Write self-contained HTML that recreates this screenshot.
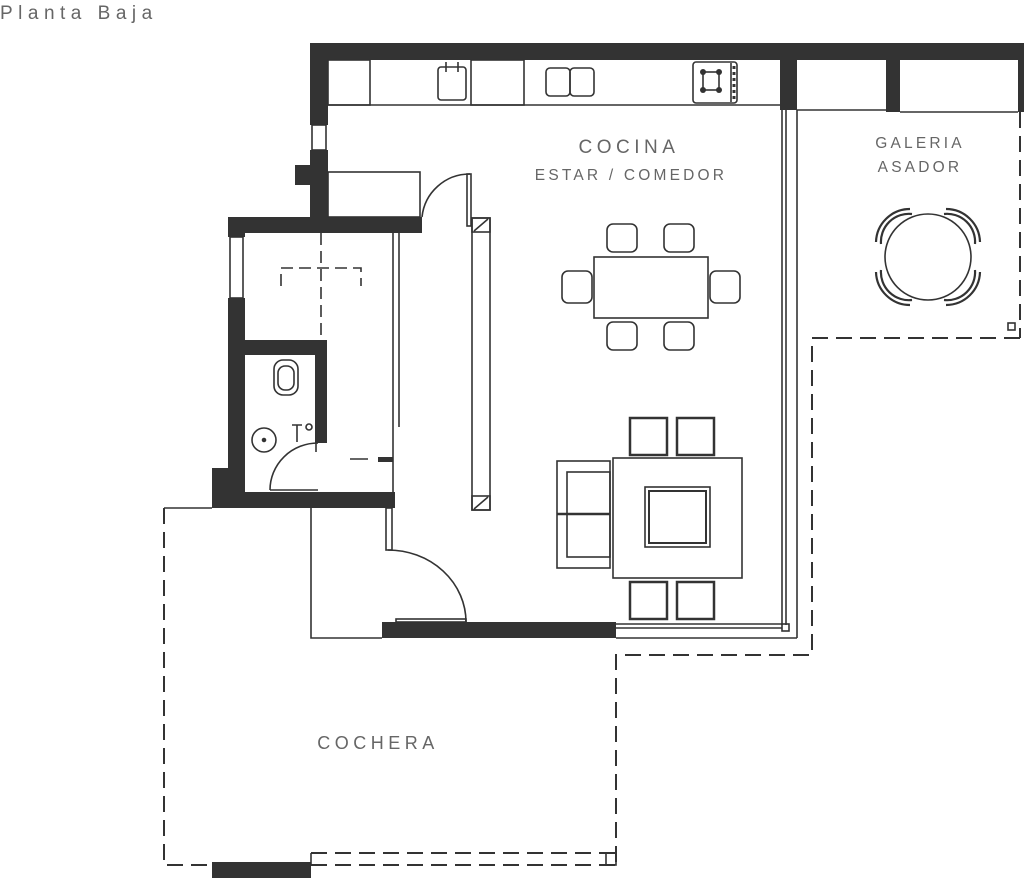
<!DOCTYPE html>
<html><head><meta charset="utf-8"><style>
html,body{margin:0;padding:0;background:#fff;width:1024px;height:878px;overflow:hidden}
svg{display:block}
text{font-family:"Liberation Sans",sans-serif;fill:#666}
</style></head><body>
<svg width="1024" height="878" viewBox="0 0 1024 878" xmlns="http://www.w3.org/2000/svg">
<text x="0" y="19" font-size="19" letter-spacing="5.5" fill="#444">Planta Baja</text>
<g fill="#333">
<rect x="310" y="43" width="714" height="17"/>
<rect x="310" y="43" width="18" height="82"/>
<rect x="310" y="150" width="18" height="80"/>
<rect x="295" y="165" width="16" height="20"/>
<rect x="780" y="60" width="17" height="50"/>
<rect x="886" y="60" width="14" height="52"/>
<rect x="1018" y="43" width="6" height="69"/>
<rect x="228" y="217" width="194" height="16"/>
<rect x="228" y="217" width="17" height="20"/>
<rect x="228" y="298" width="17" height="210"/>
<rect x="212" y="468" width="33" height="40"/>
<rect x="245" y="340" width="82" height="15"/>
<rect x="315" y="340" width="12" height="103"/>
<rect x="212" y="492" width="183" height="16"/>
<rect x="382" y="622" width="234" height="16"/>
<rect x="212" y="862" width="99" height="16"/>
<rect x="378" y="457" width="15" height="5"/>
<circle cx="703" cy="72" r="3"/><circle cx="719" cy="72" r="3"/><circle cx="703" cy="90" r="3"/><circle cx="719" cy="90" r="3"/>
</g>
<g fill="none" stroke="#333" stroke-width="1.6">
<rect x="312" y="125" width="14" height="25"/>
<rect x="230" y="237" width="13" height="61"/>
<line x1="328" y1="105" x2="780" y2="105"/>
<rect x="328" y="60" width="42" height="45"/>
<rect x="438" y="67" width="28" height="33" rx="3"/>
<line x1="446" y1="62" x2="446" y2="72"/><line x1="458" y1="62" x2="458" y2="72"/>
<rect x="471" y="60" width="53" height="45"/>
<rect x="546" y="68" width="24" height="28" rx="4"/><rect x="570" y="68" width="24" height="28" rx="4"/>
<rect x="693" y="62" width="44" height="41" rx="3"/>
<rect x="703" y="72" width="16" height="18"/>
<line x1="731" y1="63" x2="731" y2="102"/>
<line x1="734" y1="66" x2="734" y2="100" stroke-dasharray="3 3" stroke-width="3"/>
<rect x="328" y="172" width="92" height="45"/>
<path d="M422 217 A48 48 0 0 1 470 174"/>
<rect x="467" y="174" width="4" height="52"/>
<rect x="472" y="218" width="18" height="292"/>
<rect x="472" y="218" width="18" height="14"/><line x1="474" y1="231" x2="488" y2="219"/>
<rect x="472" y="496" width="18" height="14"/><line x1="474" y1="509" x2="488" y2="497"/>
<line x1="393" y1="233" x2="393" y2="508"/>
<line x1="399" y1="233" x2="399" y2="427"/>
<rect x="386" y="508" width="6" height="42"/>
<path d="M388 550 A78 72 0 0 1 466 622"/>
<rect x="396" y="619" width="70" height="3"/>
<path d="M311 508 V638 H382"/>
<line x1="782" y1="110" x2="782" y2="625"/>
<line x1="786" y1="110" x2="786" y2="625"/>
<line x1="797" y1="110" x2="797" y2="638"/>
<line x1="616" y1="624" x2="782" y2="624"/>
<line x1="616" y1="628" x2="782" y2="628"/>
<line x1="616" y1="638" x2="797" y2="638"/>
<rect x="782" y="624" width="7" height="7"/>
<line x1="797" y1="110" x2="886" y2="110"/>
<line x1="900" y1="112" x2="1018" y2="112"/>
<rect x="274" y="360" width="24" height="35" rx="9"/>
<rect x="278" y="366" width="16" height="24" rx="7"/>
<circle cx="264" cy="440" r="12"/><circle cx="264" cy="440" r="1.5" fill="#333"/>
<path d="M292 425 H302 M297 425 V442"/><circle cx="309" cy="427" r="3"/>
<path d="M270 490 A48 47 0 0 1 318 443"/>
<line x1="270" y1="490" x2="318" y2="490"/>
<line x1="316" y1="443" x2="316" y2="452"/>
<line x1="350" y1="459" x2="368" y2="459"/>
<g stroke-dasharray="12 6">
<path d="M281 286 V268 H361 V286"/>
<line x1="321" y1="233" x2="321" y2="340"/>
</g>
<rect x="594" y="257" width="114" height="61"/>
<rect x="607" y="224" width="30" height="28" rx="6"/><rect x="664" y="224" width="30" height="28" rx="6"/>
<rect x="607" y="322" width="30" height="28" rx="6"/><rect x="664" y="322" width="30" height="28" rx="6"/>
<rect x="562" y="271" width="30" height="32" rx="6"/><rect x="710" y="271" width="30" height="32" rx="6"/>
<rect x="613" y="458" width="129" height="120"/>
<rect x="645" y="487" width="65" height="60"/>
<rect x="649" y="491" width="57" height="52" stroke-width="2"/>
<rect x="557" y="461" width="53" height="107"/>
<rect x="567" y="472" width="43" height="85"/>
<line x1="557" y1="514" x2="610" y2="514" stroke-width="2.5"/>
<g stroke-width="2.5">
<rect x="630" y="418" width="37" height="37"/><rect x="677" y="418" width="37" height="37"/>
<rect x="630" y="582" width="37" height="37"/><rect x="677" y="582" width="37" height="37"/>
</g>
<circle cx="928" cy="257" r="43"/>
<g stroke-width="2.2">
<path d="M910 209 A34 34 0 0 0 876 242"/><path d="M946 209 A34 34 0 0 1 980 242"/>
<path d="M876 272 A34 34 0 0 0 910 305"/><path d="M980 272 A34 34 0 0 1 946 305"/>
<path d="M912 214 A28 28 0 0 0 881 244"/><path d="M944 214 A28 28 0 0 1 975 244"/>
<path d="M881 270 A28 28 0 0 0 912 300"/><path d="M975 270 A28 28 0 0 1 944 300"/>
</g>
<rect x="1008" y="323" width="7" height="7"/>
<line x1="164" y1="508" x2="212" y2="508"/>
</g>
<g fill="none" stroke="#333" stroke-width="2" stroke-dasharray="16 8">
<line x1="1020" y1="112" x2="1020" y2="338"/>
<path d="M1020 338 H812 V655 H616 V865"/>
<path d="M164 508 V865 H212"/>
<line x1="311" y1="853" x2="616" y2="853"/>
<line x1="311" y1="865" x2="616" y2="865"/>
</g>
<g fill="none" stroke="#333" stroke-width="1.6">
<line x1="311" y1="853" x2="311" y2="865"/>
<rect x="606" y="853" width="10" height="12"/>
</g>
<text x="629" y="153" font-size="19" letter-spacing="4.5" text-anchor="middle">COCINA</text>
<text x="631" y="180" font-size="15.5" letter-spacing="3.2" text-anchor="middle">ESTAR / COMEDOR</text>
<text x="920" y="148" font-size="15.5" letter-spacing="3.2" text-anchor="middle">GALERIA</text>
<text x="920" y="172" font-size="15.5" letter-spacing="3.2" text-anchor="middle">ASADOR</text>
<text x="378" y="749" font-size="18" letter-spacing="4.5" text-anchor="middle">COCHERA</text>
</svg>
</body></html>
